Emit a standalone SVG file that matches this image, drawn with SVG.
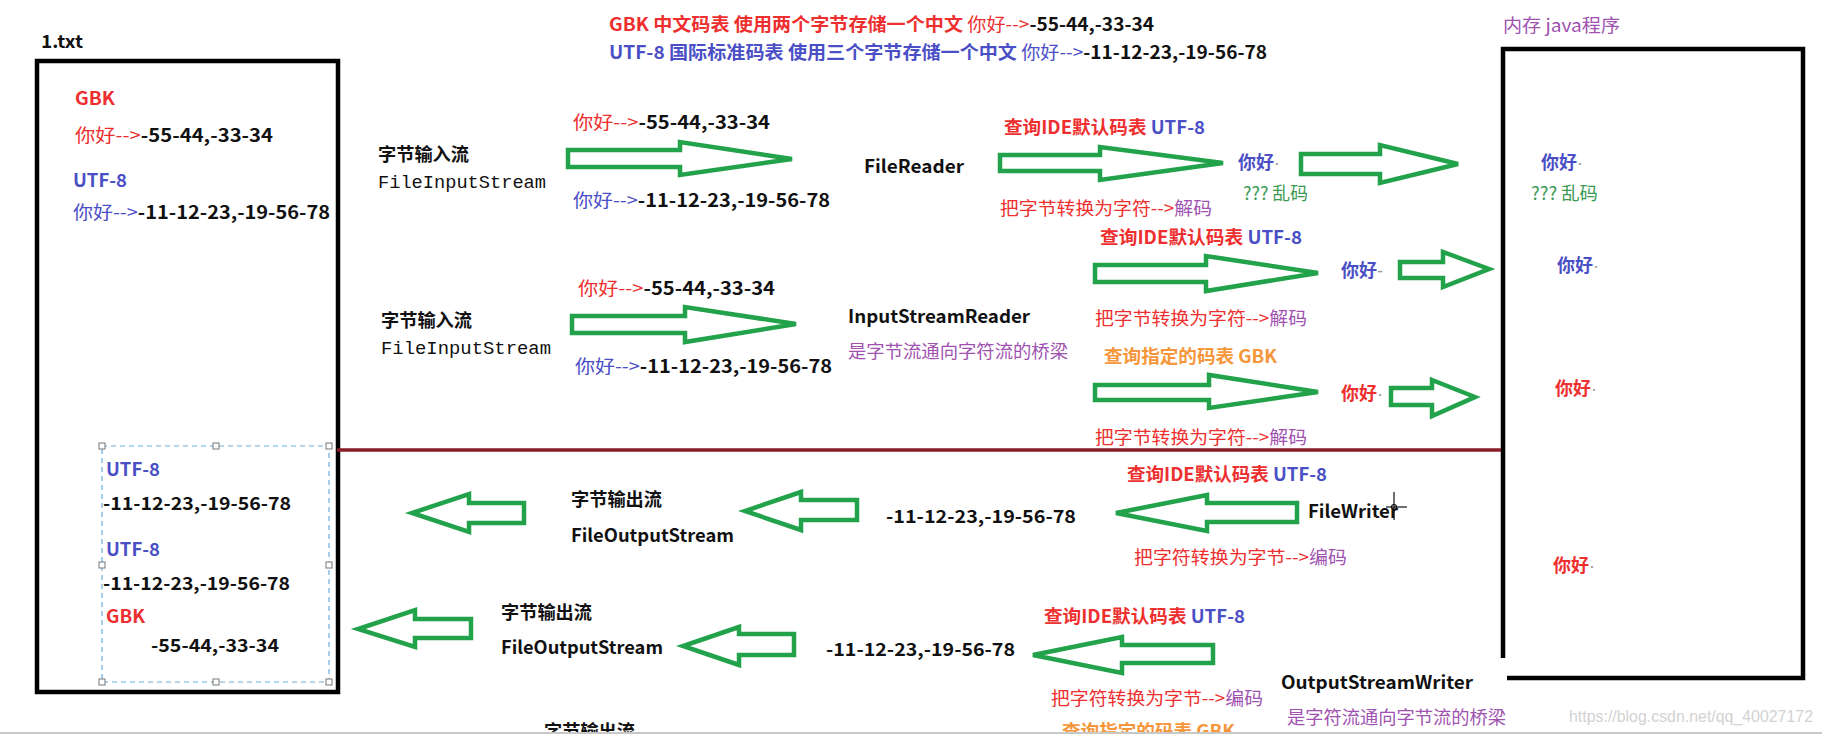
<svg xmlns="http://www.w3.org/2000/svg" width="1822" height="734" viewBox="0 0 1822 734">
<style>
text{font-family:"Noto Sans CJK SC","Liberation Sans",sans-serif;font-size:18px;fill:#111}
.b{font-weight:bold}
.n{font-weight:normal}
.r{fill:#ee2f2f}
.bl{fill:#4b4fc6}
.p{fill:#a052b0}
.g{fill:#3a9a52}
.o{fill:#f6963a}
.k{fill:#111}
.d{fill:#9a9a9a;font-weight:normal;font-family:"Liberation Sans",sans-serif}
.mono{font-family:"Liberation Mono","DejaVu Sans Mono",monospace;font-size:18px}
.wm{fill:#d2d2d2;font-family:"Liberation Sans",sans-serif;font-size:17px}
.arrow{fill:#fff;stroke:#22a24a;stroke-width:4.5}
.box{fill:none;stroke:#000;stroke-width:4.5}
.h{fill:#fff;stroke:#777;stroke-width:1}
</style>
<rect width="1822" height="734" fill="#fff"/>

<!-- headers -->
<g id="legend">
<text x="609" y="31" class="b" textLength="545" lengthAdjust="spacingAndGlyphs"><tspan class="r">GBK 中文码表 使用两个字节存储一个中文 </tspan><tspan class="r n">你好--&gt;</tspan><tspan class="k">-55-44,-33-34</tspan></text>
<text x="609" y="59" class="b" textLength="658" lengthAdjust="spacingAndGlyphs"><tspan class="bl">UTF-8 国际标准码表 使用三个字节存储一个中文 </tspan><tspan class="bl n">你好--&gt;</tspan><tspan class="k">-11-12-23,-19-56-78</tspan></text>
</g>

<!-- file 1.txt -->
<g id="file">
<text x="41" y="48" class="b" font-size="17" textLength="42" lengthAdjust="spacingAndGlyphs">1.txt</text>
<rect x="37" y="61" width="301" height="631" class="box"/>
<text x="75" y="105" class="b r" textLength="40" lengthAdjust="spacingAndGlyphs">GBK</text>
<text x="75" y="142" class="b" textLength="198" lengthAdjust="spacingAndGlyphs"><tspan class="r n">你好--&gt;</tspan><tspan class="k">-55-44,-33-34</tspan></text>
<text x="73" y="187" class="b bl" textLength="54" lengthAdjust="spacingAndGlyphs">UTF-8</text>
<text x="73" y="219" class="b" textLength="257" lengthAdjust="spacingAndGlyphs"><tspan class="bl n">你好--&gt;</tspan><tspan class="k">-11-12-23,-19-56-78</tspan></text>
</g>

<!-- selection in file -->
<g id="written">
<rect x="102" y="446" width="227" height="236" fill="none" stroke="#6aaee0" stroke-width="1.2" stroke-dasharray="5,4"/>
<rect x="99" y="443" width="6" height="6" class="h"/>
<rect x="213" y="443" width="6" height="6" class="h"/>
<rect x="326" y="443" width="6" height="6" class="h"/>
<rect x="99" y="562" width="6" height="6" class="h"/>
<rect x="326" y="562" width="6" height="6" class="h"/>
<rect x="99" y="679" width="6" height="6" class="h"/>
<rect x="213" y="679" width="6" height="6" class="h"/>
<rect x="326" y="679" width="6" height="6" class="h"/>
<text x="106" y="476" class="b bl" textLength="54" lengthAdjust="spacingAndGlyphs">UTF-8</text>
<text x="103" y="510" class="b" textLength="188" lengthAdjust="spacingAndGlyphs">-11-12-23,-19-56-78</text>
<text x="106" y="556" class="b bl" textLength="54" lengthAdjust="spacingAndGlyphs">UTF-8</text>
<text x="103" y="590" class="b" textLength="187" lengthAdjust="spacingAndGlyphs">-11-12-23,-19-56-78</text>
<text x="106" y="623" class="b r" textLength="39" lengthAdjust="spacingAndGlyphs">GBK</text>
<text x="151" y="652" class="b" textLength="128" lengthAdjust="spacingAndGlyphs">-55-44,-33-34</text>
</g>

<!-- memory java program -->
<g id="memory">
<text x="1503" y="32" class="p" textLength="117" lengthAdjust="spacingAndGlyphs">内存 java程序</text>
<path d="M1503,658 L1503,49 L1803,49 L1803,678 L1507,678" class="box"/>
<text x="1541" y="169" class="b bl">你好<tspan class="d">·</tspan></text>
<text x="1531" y="200" class="g" textLength="67" lengthAdjust="spacingAndGlyphs">??? 乱码</text>
<text x="1557" y="272" class="b bl">你好<tspan class="d">·</tspan></text>
<text x="1555" y="395" class="b r">你好<tspan class="d">·</tspan></text>
<text x="1553" y="572" class="b r">你好<tspan class="d">·</tspan></text>
</g>

<!-- row 1: FileReader -->
<g id="fis1">
<text x="378" y="161" class="b" textLength="91" lengthAdjust="spacingAndGlyphs">字节输入流</text>
<text x="378" y="188" class="mono" textLength="168" lengthAdjust="spacingAndGlyphs">FileInputStream</text>
</g>
<g id="filereader">
<text x="864" y="173" class="b" textLength="100" lengthAdjust="spacingAndGlyphs">FileReader</text>
</g>
<g id="res1">
<text x="1238" y="169" class="b bl">你好<tspan class="d">·</tspan></text>
<text x="1243" y="200" class="g" textLength="65" lengthAdjust="spacingAndGlyphs">??? 乱码</text>
</g>

<!-- row 2: InputStreamReader -->
<g id="fis2">
<text x="381" y="327" class="b" textLength="91" lengthAdjust="spacingAndGlyphs">字节输入流</text>
<text x="381" y="354" class="mono" textLength="170" lengthAdjust="spacingAndGlyphs">FileInputStream</text>
</g>
<g id="isr">
<text x="848" y="323" class="b" textLength="182" lengthAdjust="spacingAndGlyphs">InputStreamReader</text>
<text x="848" y="358" class="p" textLength="220" lengthAdjust="spacingAndGlyphs">是字节流通向字符流的桥梁</text>
</g>
<g id="res2">
<text x="1341" y="277" class="b bl">你好<tspan class="d">-</tspan></text>
</g>
<g id="res3">
<text x="1341" y="400" class="b r">你好<tspan class="d">·</tspan></text>
</g>

<!-- row 3: FileWriter -->
<g id="fos1">
<text x="571" y="506" class="b" textLength="91" lengthAdjust="spacingAndGlyphs">字节输出流</text>
<text x="571" y="542" class="b" textLength="163" lengthAdjust="spacingAndGlyphs">FileOutputStream</text>
</g>
<g id="bytes1">
<text x="886" y="523" class="b" textLength="190" lengthAdjust="spacingAndGlyphs">-11-12-23,-19-56-78</text>
</g>
<g id="filewriter">
<text x="1308" y="518" class="b" textLength="90" lengthAdjust="spacingAndGlyphs">FileWriter</text>
<g stroke="#111" stroke-width="1.2" fill="none">
<line x1="1394" y1="492" x2="1394" y2="520"/>
<line x1="1386" y1="507" x2="1407" y2="507"/>
<circle cx="1394" cy="507" r="2.5"/>
</g>
</g>

<!-- row 4: OutputStreamWriter -->
<g id="fos2">
<text x="501" y="619" class="b" textLength="91" lengthAdjust="spacingAndGlyphs">字节输出流</text>
<text x="501" y="654" class="b" textLength="162" lengthAdjust="spacingAndGlyphs">FileOutputStream</text>
</g>
<g id="bytes2">
<text x="826" y="656" class="b" textLength="189" lengthAdjust="spacingAndGlyphs">-11-12-23,-19-56-78</text>
</g>
<g id="osw">
<text x="1281" y="689" class="b" textLength="192" lengthAdjust="spacingAndGlyphs">OutputStreamWriter</text>
<text x="1287" y="724" class="p" textLength="219" lengthAdjust="spacingAndGlyphs">是字符流通向字节流的桥梁</text>
</g>

<!-- connectors -->
<g id="connectors">
<line x1="337" y1="450" x2="1501" y2="450" stroke="#8a1c26" stroke-width="3.5"/>
<!-- row 1 -->
<polygon class="arrow" points="568,150 680,150 680,142 792,159 680,175 680,167 568,167"/>
<polygon class="arrow" points="1000,155 1100,155 1100,147 1223,163 1100,180 1100,171 1000,171"/>
<polygon class="arrow" points="1301,154 1380,154 1380,145 1458,164 1380,183 1380,174 1301,174"/>
<!-- row 2 -->
<polygon class="arrow" points="572,316 685,316 685,307 796,324 685,342 685,333 572,333"/>
<polygon class="arrow" points="1095,265 1206,265 1206,256 1318,273 1206,291 1206,282 1095,282"/>
<polygon class="arrow" points="1400,262 1443,262 1443,252 1489,269 1443,287 1443,278 1400,278"/>
<polygon class="arrow" points="1095,385 1209,385 1209,375 1318,392 1209,408 1209,400 1095,400"/>
<polygon class="arrow" points="1391,388 1432,388 1432,380 1475,397 1432,416 1432,405 1391,405"/>
<!-- row 3 -->
<polygon class="arrow" points="524,503 469,503 469,494 412,513 469,532 469,523 524,523"/>
<polygon class="arrow" points="857,500 801,500 801,492 745,511 801,530 801,520 857,520"/>
<polygon class="arrow" points="1297,503 1207,503 1207,495 1116,513 1207,531 1207,522 1297,522"/>
<!-- row 4 -->
<polygon class="arrow" points="471,619 415,619 415,610 358,629 415,647 415,638 471,638"/>
<polygon class="arrow" points="794,634 739,634 739,627 683,646 739,665 739,655 794,655"/>
<polygon class="arrow" points="1213,645 1122,645 1122,637 1033,655 1122,673 1122,663 1213,663"/>

<!-- connector labels -->
<text x="573" y="129" class="b" textLength="197" lengthAdjust="spacingAndGlyphs"><tspan class="r n">你好--&gt;</tspan><tspan class="k">-55-44,-33-34</tspan></text>
<text x="573" y="207" class="b" textLength="257" lengthAdjust="spacingAndGlyphs"><tspan class="bl n">你好--&gt;</tspan><tspan class="k">-11-12-23,-19-56-78</tspan></text>
<text x="1004" y="134" class="b" textLength="201" lengthAdjust="spacingAndGlyphs"><tspan class="r">查询IDE默认码表 </tspan><tspan class="bl">UTF-8</tspan></text>
<text x="1000" y="215" textLength="212" lengthAdjust="spacingAndGlyphs"><tspan class="r">把字节转换为字符--&gt;</tspan><tspan class="p">解码</tspan></text>

<text x="578" y="295" class="b" textLength="197" lengthAdjust="spacingAndGlyphs"><tspan class="r n">你好--&gt;</tspan><tspan class="k">-55-44,-33-34</tspan></text>
<text x="575" y="373" class="b" textLength="257" lengthAdjust="spacingAndGlyphs"><tspan class="bl n">你好--&gt;</tspan><tspan class="k">-11-12-23,-19-56-78</tspan></text>
<text x="1100" y="244" class="b" textLength="202" lengthAdjust="spacingAndGlyphs"><tspan class="r">查询IDE默认码表 </tspan><tspan class="bl">UTF-8</tspan></text>
<text x="1095" y="325" textLength="212" lengthAdjust="spacingAndGlyphs"><tspan class="r">把字节转换为字符--&gt;</tspan><tspan class="p">解码</tspan></text>
<text x="1104" y="363" class="b o" textLength="173" lengthAdjust="spacingAndGlyphs">查询指定的码表 GBK</text>
<text x="1095" y="444" textLength="212" lengthAdjust="spacingAndGlyphs"><tspan class="r">把字节转换为字符--&gt;</tspan><tspan class="p">解码</tspan></text>

<text x="1127" y="481" class="b" textLength="200" lengthAdjust="spacingAndGlyphs"><tspan class="r">查询IDE默认码表 </tspan><tspan class="bl">UTF-8</tspan></text>
<text x="1134" y="564" textLength="213" lengthAdjust="spacingAndGlyphs"><tspan class="r">把字符转换为字节--&gt;</tspan><tspan class="p">编码</tspan></text>

<text x="1044" y="623" class="b" textLength="201" lengthAdjust="spacingAndGlyphs"><tspan class="r">查询IDE默认码表 </tspan><tspan class="bl">UTF-8</tspan></text>
<text x="1051" y="705" textLength="212" lengthAdjust="spacingAndGlyphs"><tspan class="r">把字符转换为字节--&gt;</tspan><tspan class="p">编码</tspan></text>
<text x="1062" y="738" class="b o" textLength="173" lengthAdjust="spacingAndGlyphs">查询指定的码表 GBK</text>
<text x="544" y="738" class="b" textLength="91" lengthAdjust="spacingAndGlyphs">字节输出流</text>
</g>

<text x="1569" y="722" class="wm" textLength="244" lengthAdjust="spacingAndGlyphs">https://blog.csdn.net/qq_40027172</text>
<line x1="0" y1="733" x2="1822" y2="733" stroke="#c8c8c8" stroke-width="2"/>
</svg>
